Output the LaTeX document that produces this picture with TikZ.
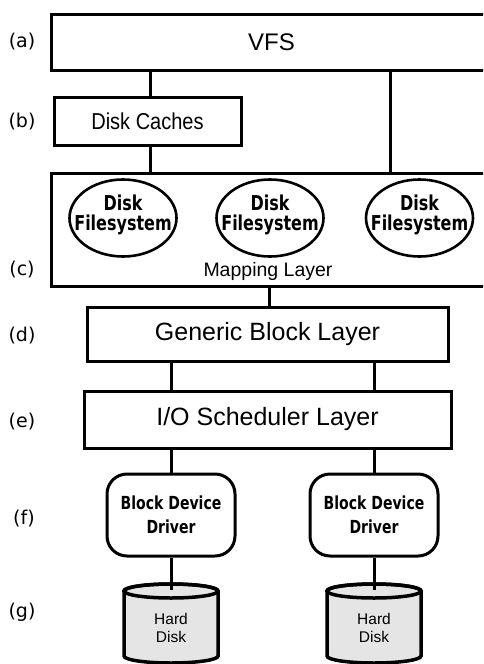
\documentclass[tikz,border=0pt]{standalone}
\usepackage{fontspec}
\setmainfont{Liberation Sans}
\newfontfamily\narrowsans[FakeStretch=0.87]{Liberation Sans}
\newfontfamily\labfont{DejaVu Sans}
\newfontfamily\boldsans[FakeStretch=0.78]{DejaVu Sans}
\usetikzlibrary{shapes.geometric}
\begin{document}
\begin{tikzpicture}[x=1pt,y=1pt,
  ln/.style={line width=3pt},
  box/.style={draw,line width=3pt,inner sep=0pt,align=center},
  fsell/.style={draw,ellipse,line width=2.6pt,inner sep=0pt,minimum width=107pt,minimum height=77pt},
  fstxt/.style={align=center,inner sep=0pt,font=\boldsans\bfseries\fontsize{20.5}{20.5}\selectfont},
  drv/.style={draw,rounded corners=20pt,line width=3pt,inner sep=0pt,minimum width=128pt,minimum height=82pt,align=center,
    font=\boldsans\bfseries\fontsize{18}{24}\selectfont},
  lab/.style={font=\labfont\fontsize{19}{22}\selectfont},
  disk/.style={draw,line width=3.5pt,fill=black!10},
  disktxt/.style={align=center,font=\fontsize{15.5}{18.5}\selectfont}
]
\useasboundingbox (0,0) rectangle (483,-664);
\clip (0,0) rectangle (483,-664);

% nodes
\node[box,minimum width=441pt,minimum height=56pt,font=\fontsize{24}{28}\selectfont] (vfs) at (271.5,-42) {VFS};
\node[box,minimum width=187pt,minimum height=48pt,font=\narrowsans\fontsize{23}{26}\selectfont] (dc) at (147.5,-121) {Disk Caches};
\node[box,minimum width=441pt,minimum height=113pt] (map) at (271.5,-229.5) {};
\node[font=\fontsize{19.5}{22}\selectfont] (maptxt) at (268,-271) {Mapping Layer};
\node[fsell] (fs1) at (123,-218) {};
\node[fsell] (fs2) at (270,-218) {};
\node[fsell] (fs3) at (419.5,-218) {};
\node[fstxt] (fs1t) at (123,-215) {Disk\\Filesystem};
\node[fstxt] (fs2t) at (270,-215) {Disk\\Filesystem};
\node[fstxt] (fs3t) at (419.5,-215) {Disk\\Filesystem};
\node[box,minimum width=361pt,minimum height=54pt,font=\fontsize{25}{28}\selectfont] (gen) at (267.5,-334) {Generic Block Layer};
\node[box,minimum width=367pt,minimum height=57pt,font=\fontsize{25}{28}\selectfont] (io) at (267.5,-419.5) {I/O Scheduler Layer};
\node[drv] (drv1) at (171,-515) {Block Device\\Driver};
\node[drv] (drv2) at (374,-515) {Block Device\\Driver};

% labels
\node[lab] (la) at (22,-42) {(a)};
\node[lab] (lb) at (22,-122) {(b)};
\node[lab] (lc) at (22,-270) {(c)};
\node[lab] (ld) at (22,-336) {(d)};
\node[lab] (le) at (22,-422) {(e)};
\node[lab] (lf) at (24,-519) {(f)};
\node[lab] (lg) at (22,-612) {(g)};

% disks
\foreach \cx/\nm in {171/hd1,374/hd2}{
  \path[disk] (\cx-47,-591) -- (\cx-47,-656) arc[start angle=180,end angle=360,x radius=47,y radius=7]
    -- (\cx+47,-591) arc[start angle=0,end angle=180,x radius=47,y radius=7] -- cycle;
  \draw[line width=3.5pt] (\cx,-591) ellipse[x radius=47,y radius=7];
  \coordinate (\nm top) at (\cx,-590);
  \node[disktxt] (\nm) at (\cx,-628) {Hard\\Disk};
}

% connectors
\coordinate (r) at (390,0);
\coordinate (l) at (150,0);
\draw[ln] (vfs.south -| l) -- (dc.north -| l);
\draw[ln] (dc.south -| l) -- (map.north -| l);
\draw[ln] (vfs.south -| r) -- (map.north -| r);
\coordinate (m) at (269,0);
\draw[ln] (map.south -| m) -- (gen.north -| m);
\draw[ln] (gen.south -| drv1.north) -- (io.north -| drv1.north);
\draw[ln] (gen.south -| drv2.north) -- (io.north -| drv2.north);
\draw[ln] (io.south -| drv1.north) -- (drv1.north);
\draw[ln] (io.south -| drv2.north) -- (drv2.north);
\draw[ln] (drv1.south) -- (hd1top);
\draw[ln] (drv2.south) -- (hd2top);
\end{tikzpicture}
\end{document}
